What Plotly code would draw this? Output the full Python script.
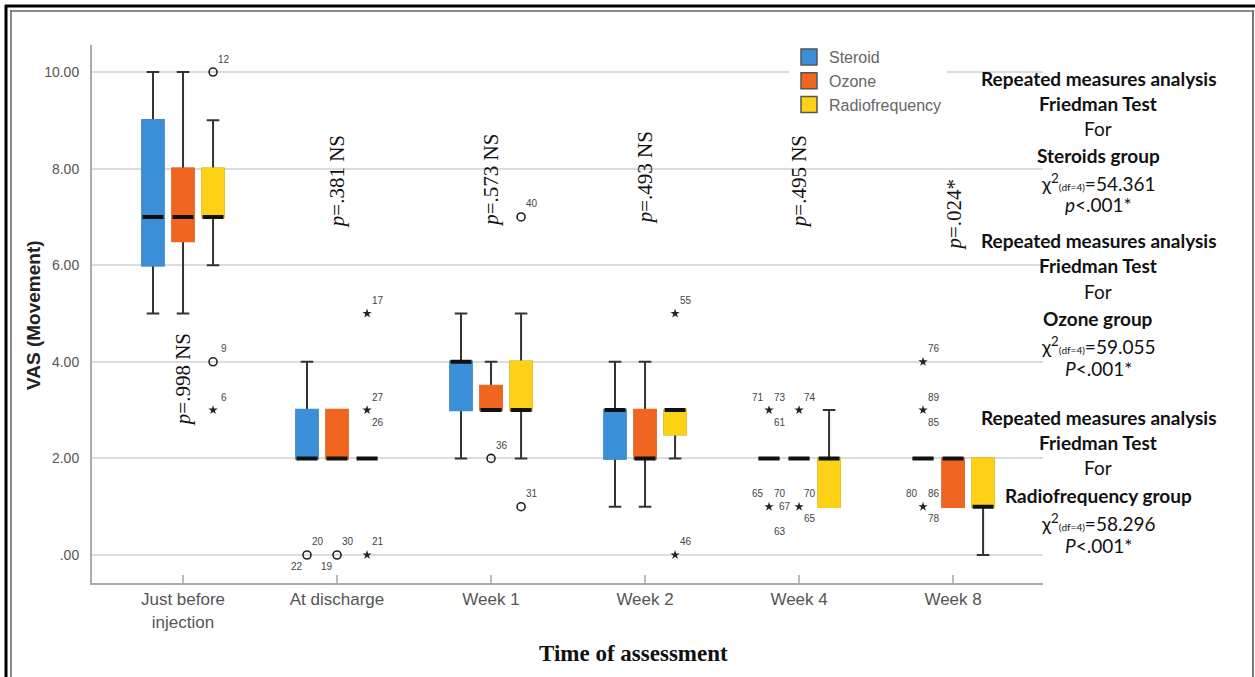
import plotly.graph_objects as go

# ---------------- data ----------------
categories = ["Just before<br>injection", "At discharge", "Week 1", "Week 2", "Week 4", "Week 8"]
series = ["Steroid", "Ozone", "Radiofrequency"]

steroid_q1 = [6, 2, 3, 2, 2, 2]
steroid_median = [7, 2, 4, 3, 2, 2]
steroid_q3 = [9, 3, 4, 3, 2, 2]
steroid_low = [5, 2, 2, 1, 2, 2]
steroid_high = [10, 4, 5, 4, 2, 2]

ozone_q1 = [6.5, 2, 3, 2, 2, 1]
ozone_median = [7, 2, 3, 2, 2, 2]
ozone_q3 = [8, 3, 3.5, 3, 2, 2]
ozone_low = [5, 2, 3, 1, 2, 1]
ozone_high = [10, 3, 4, 4, 2, 2]

rf_q1 = [7, 2, 3, 2.5, 1, 1]
rf_median = [7, 2, 3, 3, 2, 1]
rf_q3 = [8, 2, 4, 3, 2, 2]
rf_low = [6, 2, 2, 2, 1, 0]
rf_high = [9, 2, 5, 3, 3, 2]

# outliers: category index, series, value, kind
outlier_cat = [0, 0, 0, 1, 1, 1, 1, 1, 2, 2, 2, 3, 3, 4, 4, 4, 4, 5, 5, 5]
outlier_series = ["Radiofrequency", "Radiofrequency", "Radiofrequency",
                  "Steroid", "Ozone", "Radiofrequency", "Radiofrequency", "Radiofrequency",
                  "Ozone", "Radiofrequency", "Radiofrequency",
                  "Radiofrequency", "Radiofrequency",
                  "Steroid", "Steroid", "Ozone", "Ozone",
                  "Steroid", "Steroid", "Steroid"]
outlier_value = [10, 4, 3, 0, 0, 5, 3, 0, 2, 1, 7, 5, 0, 3, 1, 3, 1, 4, 3, 1]
outlier_kind = ["mild", "mild", "extreme", "mild", "mild", "extreme", "extreme", "extreme",
                "mild", "mild", "mild", "extreme", "extreme",
                "extreme", "extreme", "extreme", "extreme", "extreme", "extreme", "extreme"]

# outlier case labels
label_cat = [0, 0, 0,
             1, 1, 1, 1, 1, 1, 1, 1,
             2, 2, 2,
             3, 3,
             4, 4, 4, 4, 4, 4, 4, 4, 4, 4,
             5, 5, 5, 5, 5, 5]
label_series = ["Radiofrequency"] * 3 + \
               ["Steroid", "Steroid", "Ozone", "Ozone",
                "Radiofrequency", "Radiofrequency", "Radiofrequency", "Radiofrequency"] + \
               ["Ozone", "Radiofrequency", "Radiofrequency"] + \
               ["Radiofrequency", "Radiofrequency"] + \
               ["Steroid"] * 7 + ["Ozone"] * 3 + \
               ["Steroid"] * 6
label_value = [10, 4, 3,
               0, 0, 0, 0, 5, 3, 3, 0,
               2, 1, 7,
               5, 0,
               3, 3, 3, 1, 1, 1, 1, 3, 1, 1,
               4, 3, 3, 1, 1, 1]
label_text = ["12", "9", "6",
              "20", "22", "30", "19", "17", "27", "26", "21",
              "36", "31", "40",
              "55", "46",
              "71", "73", "61", "65", "70", "67", "63", "74", "70", "65",
              "76", "89", "85", "80", "86", "78"]
label_pos = ["top right", "top right", "top right",
             "top right", "bottom left", "top right", "bottom left", "top right", "top right",
             "bottom right", "top right",
             "top right", "top right", "top right",
             "top right", "top right",
             "top left", "top right", "bottom right", "top left", "top right", "middle right",
             "far below", "top right", "top right", "bottom right",
             "top right", "top right", "bottom right", "top left", "top right", "bottom right"]

p_texts = ["<i>p</i>=.998 NS", "<i>p</i>=.381 NS", "<i>p</i>=.573 NS",
           "<i>p</i>=.493 NS", "<i>p</i>=.495 NS", "<i>p</i>=.024*"]

stats_lines = [
    "<b>Repeated measures analysis</b>", "<b>Friedman Test</b>", "For",
    "<b>Steroids group</b>", "χ<sup>2</sup><span style='font-size:10px'>(df=4)</span>=54.361", "<i>p</i><.001*",
    "<b>Repeated measures analysis</b>", "<b>Friedman Test</b>", "For",
    "<b>Ozone group</b>", "χ<sup>2</sup><span style='font-size:10px'>(df=4)</span>=59.055", "<i>P</i><.001*",
    "<b>Repeated measures analysis</b>", "<b>Friedman Test</b>", "For",
    "<b>Radiofrequency group</b>", "χ<sup>2</sup><span style='font-size:10px'>(df=4)</span>=58.296", "<i>P</i><.001*",
]

# ---------------- styling / layout ----------------
W, H = 1255, 677
L, R, T, B = 92, 1043, 45, 583
XR = [-0.591, 5.584]
YR = [-0.58, 10.56]
colors = {"Steroid": "#3b8fd8", "Ozone": "#f0651f", "Radiofrequency": "#fcd116"}
offsets = {"Steroid": -0.195, "Ozone": 0.0, "Radiofrequency": 0.195}
BW = 0.136
p_y = [3.62, 7.72, 7.75, 7.8, 7.72, 7.05]
stats_line_px = [78, 103, 128, 155, 182, 205, 240, 265, 291, 318, 345, 369,
                 417, 442, 467, 495, 522, 545]
label_shift = {"top right": (11, 13), "top left": (-11, 13), "bottom right": (11, -12),
               "bottom left": (-10, -12), "middle right": (16, 0), "far below": (11, -25)}


def px_x(px):
    return (px - L) / (R - L)


def px_y(py):
    return (B - py) / (B - T)


stats = {
    "Steroid": (steroid_q1, steroid_median, steroid_q3, steroid_low, steroid_high),
    "Ozone": (ozone_q1, ozone_median, ozone_q3, ozone_low, ozone_high),
    "Radiofrequency": (rf_q1, rf_median, rf_q3, rf_low, rf_high),
}

fig = go.Figure()
clear = "rgba(0,0,0,0)"
for s in series:
    q1, med, q3, lo, hi = stats[s]
    xs = [k + offsets[s] for k in range(len(categories))]
    # whiskers + caps
    fig.add_trace(go.Box(x=xs, q1=q1, median=med, q3=q3, lowerfence=lo, upperfence=hi,
                         width=BW, whiskerwidth=0.6, fillcolor=clear,
                         line=dict(color="#333333", width=2), boxpoints=False,
                         showlegend=False, hoverinfo="skip"))
    # coloured box body
    fig.add_trace(go.Box(x=xs, q1=q1, median=med, q3=q3, lowerfence=q1, upperfence=q3,
                         width=BW, whiskerwidth=0, fillcolor=colors[s],
                         line=dict(color=colors[s], width=2.5), boxpoints=False,
                         showlegend=False, hoverinfo="skip"))
    # median bar
    fig.add_trace(go.Box(x=xs, q1=med, median=med, q3=med, lowerfence=med, upperfence=med,
                         width=BW, whiskerwidth=0, fillcolor=clear,
                         line=dict(color="#111111", width=4), boxpoints=False,
                         showlegend=False, hoverinfo="skip"))

# outliers
for kind, sym, size, lw in [("mild", "circle-open", 8, 1.6), ("extreme", "star", 7, 0)]:
    xs, ys = [], []
    for c, s, v, k in zip(outlier_cat, outlier_series, outlier_value, outlier_kind):
        if k == kind:
            xs.append(c + offsets[s])
            ys.append(v)
    fig.add_trace(go.Scatter(x=xs, y=ys, mode="markers", showlegend=False, hoverinfo="skip",
                             marker=dict(symbol=sym, size=size, color="#222222",
                                         line=dict(color="#333333", width=lw))))

# legend entries
for s in series:
    fig.add_trace(go.Scatter(x=[None], y=[None], mode="markers", name=s,
                             marker=dict(symbol="square", size=16, color=colors[s],
                                         line=dict(color="#555555", width=1.5))))

annotations = []
for c, s, v, t, p in zip(label_cat, label_series, label_value, label_text, label_pos):
    dx, dy = label_shift[p]
    annotations.append(dict(x=c + offsets[s], y=v, xref="x", yref="y", text=t, showarrow=False,
                            xanchor="center", yanchor="middle", xshift=dx, yshift=dy,
                            font=dict(family="Arial, Liberation Sans", size=10, color="#444444")))
for k, t in enumerate(p_texts):
    annotations.append(dict(x=k, y=p_y[k], xref="x", yref="y", text=t, showarrow=False,
                            textangle=-90, xanchor="center", yanchor="middle",
                            font=dict(family="Liberation Serif, Times New Roman", size=21,
                                      color="#111111")))
for t, yy in zip(stats_lines, stats_line_px):
    annotations.append(dict(x=px_x(1098), y=px_y(yy), xref="paper", yref="paper", text=t,
                            showarrow=False, xanchor="center", yanchor="middle",
                            font=dict(family="Lato, Open Sans", size=19, color="#111111")))
annotations.append(dict(x=px_x(33), y=px_y(315), xref="paper", yref="paper",
                        text="<b>VAS (Movement)</b>", showarrow=False, textangle=-90,
                        xanchor="center", yanchor="middle",
                        font=dict(family="Arial, Liberation Sans", size=19, color="#222222")))
annotations.append(dict(x=px_x(633), y=px_y(653), xref="paper", yref="paper",
                        text="<b>Time of assessment</b>", showarrow=False,
                        xanchor="center", yanchor="middle",
                        font=dict(family="Liberation Serif, Times New Roman", size=23, color="#111111")))

shapes = [
    dict(type="line", xref="paper", yref="paper", x0=px_x(5), x1=px_x(1256), y0=px_y(6), y1=px_y(6),
         line=dict(color="#000000", width=3)),
    dict(type="line", xref="paper", yref="paper", x0=px_x(6), x1=px_x(6), y0=px_y(5), y1=px_y(678),
         line=dict(color="#000000", width=3)),
    dict(type="line", xref="paper", yref="paper", x0=px_x(10), x1=px_x(1253), y0=px_y(11), y1=px_y(11),
         line=dict(color="#666666", width=1.5)),
    dict(type="line", xref="paper", yref="paper", x0=px_x(11), x1=px_x(11), y0=px_y(10), y1=px_y(678),
         line=dict(color="#666666", width=1.5)),
    dict(type="line", xref="paper", yref="paper", x0=px_x(1253), x1=px_x(1253), y0=px_y(10), y1=px_y(678),
         line=dict(color="#777777", width=2)),
]

fig.update_layout(
    width=W, height=H,
    margin=dict(l=L, r=W - R, t=T, b=H - B, autoexpand=False),
    paper_bgcolor="white", plot_bgcolor="white",
    boxmode="overlay",
    showlegend=True,
    legend=dict(x=px_x(789), y=px_y(40), xanchor="left", yanchor="top", bgcolor="white",
                font=dict(family="Arial, Liberation Sans", size=16, color="#666666"),
                tracegroupgap=0, itemwidth=30),
    xaxis=dict(range=XR, tickvals=list(range(len(categories))), ticktext=categories,
               showgrid=False, zeroline=False, showline=True, linecolor="#aaaaaa", linewidth=2,
               ticks="inside", ticklen=8, tickwidth=2, tickcolor="#bbbbbb",
               tickfont=dict(family="Arial, Liberation Sans", size=17, color="#555555")),
    yaxis=dict(range=YR, tickvals=[0, 2, 4, 6, 8, 10],
               ticktext=[".00", "2.00", "4.00", "6.00", "8.00", "10.00"],
               showgrid=True, gridcolor="#dcdcdc", gridwidth=2, zeroline=False,
               showline=True, linecolor="#aaaaaa", linewidth=2, ticks="",
               ticklabelstandoff=8,
               tickfont=dict(family="Arial, Liberation Sans", size=14, color="#555555")),
    annotations=annotations,
    shapes=shapes,
)

fig.write_html("out.html")
